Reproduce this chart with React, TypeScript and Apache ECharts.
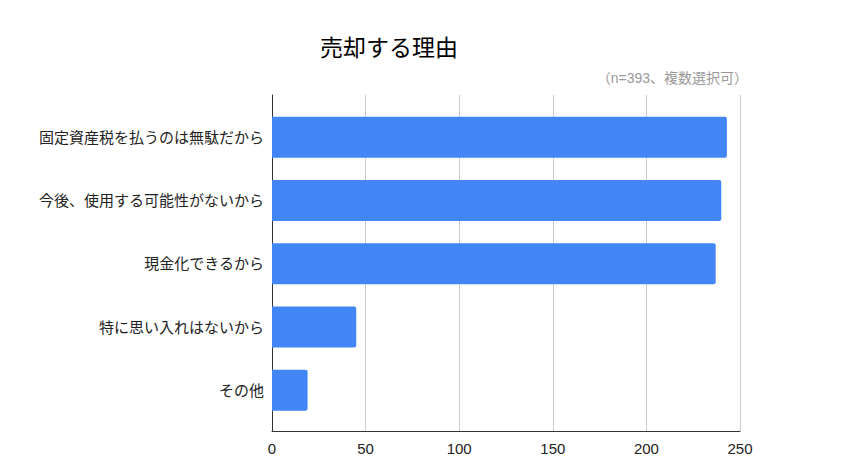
import React, { useEffect, useRef } from "react";
import * as echarts from "echarts";

const categories = [
  "固定資産税を払うのは無駄だから",
  "今後、使用する可能性がないから",
  "現金化できるから",
  "特に思い入れはないから",
  "その他",
];
const counts = [243, 240, 237, 45, 19];
const xTicks = [0, 50, 100, 150, 200, 250];
const titleText = "売却する理由";
const noteText = "（n=393、複数選択可）";

const FONT = "'Liberation Sans', Arial, 'Noto Sans CJK JP', sans-serif";

export default function App() {
  const ref = useRef<HTMLDivElement>(null);
  useEffect(() => {
    document.body.style.margin = "0";
    if (!ref.current) return;
    const chart = echarts.init(ref.current, null, { renderer: "svg" });
    const xMin = xTicks[0];
    const xMax = xTicks[xTicks.length - 1];
    const step = xTicks[1] - xTicks[0];
    chart.setOption({
      animation: false,
      backgroundColor: "#ffffff",
      textStyle: { fontFamily: FONT },
      title: [
        {
          text: titleText,
          left: 315,
          top: 31,
          textStyle: { fontSize: 23, fontWeight: "normal", color: "#000", fontFamily: FONT },
        },
        {
          text: noteText,
          right: 110,
          top: 66,
          textStyle: { fontSize: 14, fontWeight: "normal", color: "#999", fontFamily: FONT },
        },
      ],
      grid: [
        { left: 272, right: 123, top: 95, bottom: 37 },
        { left: 272, right: 123, top: 105.5, height: 316.5 },
      ],
      xAxis: [
        {
          gridIndex: 0,
          type: "value",
          min: xMin,
          max: xMax,
          interval: step,
          axisLine: { show: true, lineStyle: { color: "#333", width: 1 } },
          axisTick: { show: false },
          splitLine: { show: true, lineStyle: { color: "#cccccc", width: 1 } },
          axisLabel: { fontSize: 15, color: "#222", margin: 10, fontFamily: FONT },
        },
        {
          gridIndex: 1,
          type: "value",
          min: xMin,
          max: xMax,
          interval: step,
          show: false,
          splitLine: { show: false },
        },
      ],
      yAxis: [
        {
          gridIndex: 0,
          type: "category",
          data: categories,
          inverse: true,
          axisLine: { show: true, lineStyle: { color: "#333", width: 1 } },
          axisTick: { show: false },
          axisLabel: { show: false },
          splitLine: { show: false },
        },
        {
          gridIndex: 1,
          type: "category",
          data: categories,
          inverse: true,
          axisLine: { show: false },
          axisTick: { show: false },
          axisLabel: { fontSize: 15, color: "#222", margin: 8, fontFamily: FONT },
          splitLine: { show: false },
        },
      ],
      series: [
        {
          type: "bar",
          xAxisIndex: 1,
          yAxisIndex: 1,
          data: counts,
          barWidth: 41,
          itemStyle: { color: "#4285F4", borderRadius: [0, 2, 2, 0] },
        },
      ],
    });
    return () => chart.dispose();
  }, []);
  return <div ref={ref} style={{ width: 863, height: 468 }} />;
}
